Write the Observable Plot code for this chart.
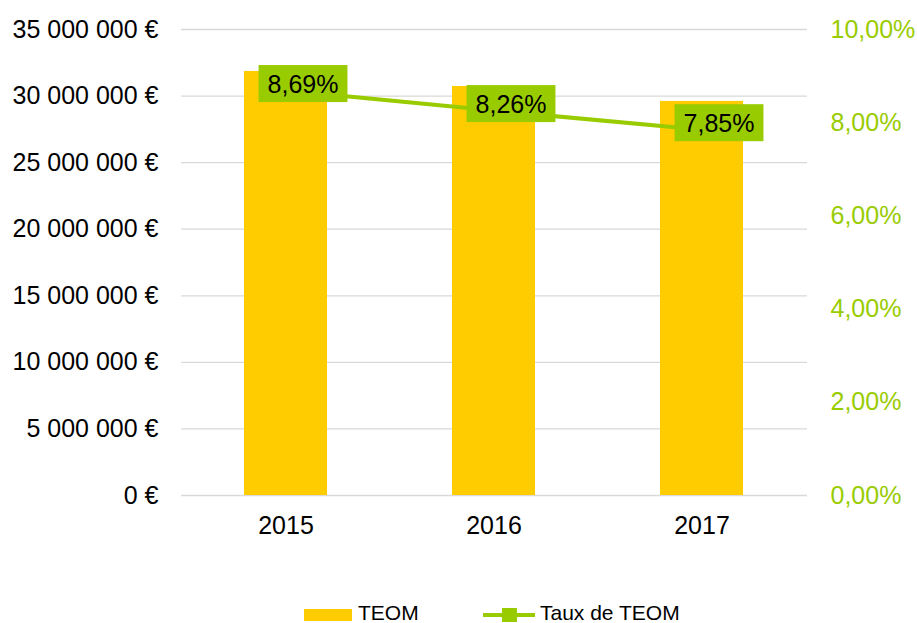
<!DOCTYPE html>
<html>
<head>
<meta charset="utf-8">
<script src="https://cdn.jsdelivr.net/npm/d3@7"></script>
<script src="https://cdn.jsdelivr.net/npm/@observablehq/plot@0.6"></script>
<style>
  html, body { margin: 0; padding: 0; background: #fff; }
  #wrap { width: 917px; font-family: "Liberation Sans", Arial, sans-serif; }
  #legend { position: relative; width: 917px; height: 33px; font-size: 21px; color: #000; }
  .sw-bar { position: absolute; left: 304px; top: 19px; width: 48px; height: 12px; background: #ffcc00; }
  .lbl1 { position: absolute; left: 358px; top: 13px; line-height: 19px; }
  .sw-line { position: absolute; left: 483px; top: 23px; width: 52px; height: 4px; background: #99cc00; }
  .sw-sq { position: absolute; left: 502px; top: 18px; width: 15px; height: 14px; background: #99cc00; }
  .lbl2 { position: absolute; left: 540px; top: 13px; line-height: 19px; }
</style>
</head>
<body>
<div id="wrap">
  <div id="chart"></div>
  <div id="legend">
    <div class="sw-bar"></div><div class="lbl1">TEOM</div>
    <div class="sw-line"></div><div class="sw-sq"></div><div class="lbl2">Taux de TEOM</div>
  </div>
</div>
<script>
const years = ["2015", "2016", "2017"];
const teom = [31850000, 30720000, 29600000];
const taux = [0.0869, 0.0826, 0.0785];
const leftTicks = [0, 5000000, 10000000, 15000000, 20000000, 25000000, 30000000, 35000000];
const rightTicks = [0, 0.02, 0.04, 0.06, 0.08, 0.10];

const YMAX = 35000000;
const PMAX = 0.10;
const toY = p => p / PMAX * YMAX;

const fr = d3.formatLocale({decimal: ",", thousands: " ", grouping: [3], currency: ["", " €"]});
const fmtEur = v => fr.format(",.0f")(v) + " €";
const fmtPct = fr.format(".2%");

const barData = years.map((y, i) => ({year: y, value: teom[i]}));
const lineData = years.map((y, i) => ({year: y, rate: taux[i], yv: toY(taux[i])}));
const labelSet = new Set(lineData.map(d => fmtPct(d.rate)));

const chart = Plot.plot({
  width: 917,
  height: 590,
  marginLeft: 181,
  marginRight: 110,
  marginTop: 29,
  marginBottom: 95,
  style: {fontFamily: "'Liberation Sans', Arial, sans-serif", fontSize: "25px", color: "#000", background: "#fff"},
  x: {type: "band", domain: years, paddingInner: 0.6, paddingOuter: 0.3, label: null},
  y: {domain: [0, YMAX], label: null},
  marks: [
    Plot.gridY(leftTicks, {stroke: "#d9d9d9", strokeOpacity: 1, strokeWidth: 1.3}),
    Plot.barY(barData, {x: "year", y: "value", fill: "#ffcc00"}),
    Plot.axisY(leftTicks, {anchor: "left", tickSize: 0, tickPadding: 23, tickFormat: fmtEur, label: null, fill: "#000"}),
    Plot.axisY(rightTicks.map(toY), {anchor: "right", tickSize: 0, tickPadding: 23, tickFormat: v => fmtPct(v / YMAX * PMAX), label: null, color: "#99cc00", fill: "#99cc00"}),
    Plot.axisX({tickSize: 0, tickPadding: 21, label: null, fill: "#000"}),
    Plot.lineY(lineData, {x: "year", y: "yv", stroke: "#99cc00", strokeWidth: 4}),
    Plot.dot(lineData, {x: "year", y: "yv", symbol: "square", r: 6, fill: "#99cc00"}),
    Plot.text(lineData, {x: "year", y: "yv", text: d => fmtPct(d.rate), dx: 17, dy: -6, fill: "#000", fontSize: 25})
  ]
});
document.getElementById("chart").appendChild(chart);

// green label boxes behind the data labels
chart.querySelectorAll("text").forEach(t => {
  if (!labelSet.has(t.textContent)) return;
  if (t.closest("[aria-label^='y-axis']")) return;
  const b = t.getBBox();
  const padX = 9, padY = 4.5;
  const r = document.createElementNS("http://www.w3.org/2000/svg", "rect");
  r.setAttribute("x", b.x - padX);
  r.setAttribute("y", b.y - padY);
  r.setAttribute("width", b.width + 2 * padX);
  r.setAttribute("height", b.height + 2 * padY);
  r.setAttribute("fill", "#99cc00");
  const tr = t.getAttribute("transform");
  if (tr) r.setAttribute("transform", tr);
  t.parentNode.insertBefore(r, t);
});
</script>
</body>
</html>
